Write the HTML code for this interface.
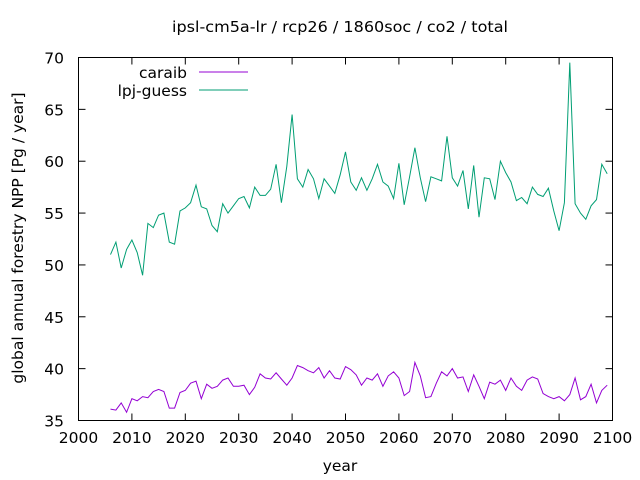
<!DOCTYPE html>
<html><head><style>body{margin:0;background:#fff}svg{display:block}text{font-family:"DejaVu Sans",sans-serif;font-size:15.5px;fill:#000}</style></head>
<body>
<svg id="s" width="640" height="480" xmlns="http://www.w3.org/2000/svg">
<text x="340" y="32" text-anchor="middle" textLength="336" lengthAdjust="spacingAndGlyphs">ipsl-cm5a-lr / rcp26 / 1860soc / co2 / total</text>
<text x="340" y="471" text-anchor="middle">year</text>
<text transform="translate(23,238) rotate(-90)" text-anchor="middle">global annual forestry NPP [Pg / year]</text>
<text x="187" y="78" text-anchor="end">caraib</text>
<line x1="199" y1="72" x2="248" y2="72" stroke="#9400d3"/>
<text x="187" y="96" text-anchor="end">lpj-guess</text>
<line x1="199" y1="90" x2="248" y2="90" stroke="#009e73"/>
<g id="ax"></g>
<rect x="78.5" y="57.5" width="534" height="363" fill="none" stroke="#000"/>
</svg>
<script>
var X0=78.5,X1=612.5,Y0=420.5,Y1=57.5;
function px(x){return X0+(x-2000)*(X1-X0)/100}
function py(y){return Y0-(y-35)*(Y0-Y1)/35}
var ax=document.getElementById('ax'),h='';
for(var x=2000;x<=2100;x+=10){var p=px(x);h+='<line x1="'+p+'" y1="'+Y0+'" x2="'+p+'" y2="'+(Y0-7)+'" stroke="#000"/><line x1="'+p+'" y1="'+Y1+'" x2="'+p+'" y2="'+(Y1+7)+'" stroke="#000"/><text x="'+p+'" y="443" text-anchor="middle">'+x+'</text>';}
for(var y=35;y<=70;y+=5){var q=py(y);h+='<line x1="'+X0+'" y1="'+q+'" x2="'+(X0+7)+'" y2="'+q+'" stroke="#000"/><line x1="'+X1+'" y1="'+q+'" x2="'+(X1-7)+'" y2="'+q+'" stroke="#000"/><text x="64" y="'+(q+6)+'" text-anchor="end">'+y+'</text>';}
var g=[51,52.2,49.7,51.5,52.4,51.2,49,54,53.6,54.8,55,52.2,52,55.2,55.5,56,57.7,55.6,55.4,53.8,53.2,55.9,55,55.7,56.4,56.6,55.5,57.5,56.7,56.7,57.3,59.7,56,59.5,64.5,58.3,57.5,59.2,58.3,56.4,58.3,57.6,56.9,58.7,60.9,58,57.2,58.4,57.2,58.3,59.7,58,57.6,56.4,59.8,55.8,58.5,61.3,58.4,56.1,58.5,58.3,58.1,62.4,58.4,57.6,59.1,55.4,59.6,54.6,58.4,58.3,56.3,60,58.9,58,56.2,56.5,55.9,57.5,56.8,56.6,57.4,55.2,53.3,56,69.5,55.9,55,54.4,55.7,56.3,59.7,58.8];
var c=[36.1,36,36.7,35.8,37.1,36.9,37.3,37.2,37.8,38,37.8,36.2,36.2,37.7,37.9,38.6,38.8,37.1,38.5,38.1,38.3,38.9,39.1,38.3,38.3,38.4,37.5,38.2,39.5,39.1,39,39.6,39,38.4,39.1,40.3,40.1,39.8,39.6,40.1,39.1,39.8,39.1,39,40.2,39.9,39.4,38.4,39.1,38.9,39.5,38.3,39.3,39.7,39.1,37.4,37.8,40.6,39.3,37.2,37.3,38.6,39.7,39.3,40,39.1,39.2,37.8,39.4,38.3,37.1,38.7,38.5,38.9,37.9,39.1,38.3,37.9,38.9,39.2,39,37.6,37.3,37.1,37.3,36.9,37.5,39.1,37,37.3,38.5,36.7,37.9,38.4];
function pl(a,col){return '<polyline fill="none" stroke="'+col+'" stroke-width="1" points="'+a.map(function(v,i){return px(2006+i).toFixed(1)+','+py(v).toFixed(1)}).join(' ')+'"/>';}
h+=pl(c,'#9400d3')+pl(g,'#009e73');
ax.innerHTML=h;
</script>
</body></html>
